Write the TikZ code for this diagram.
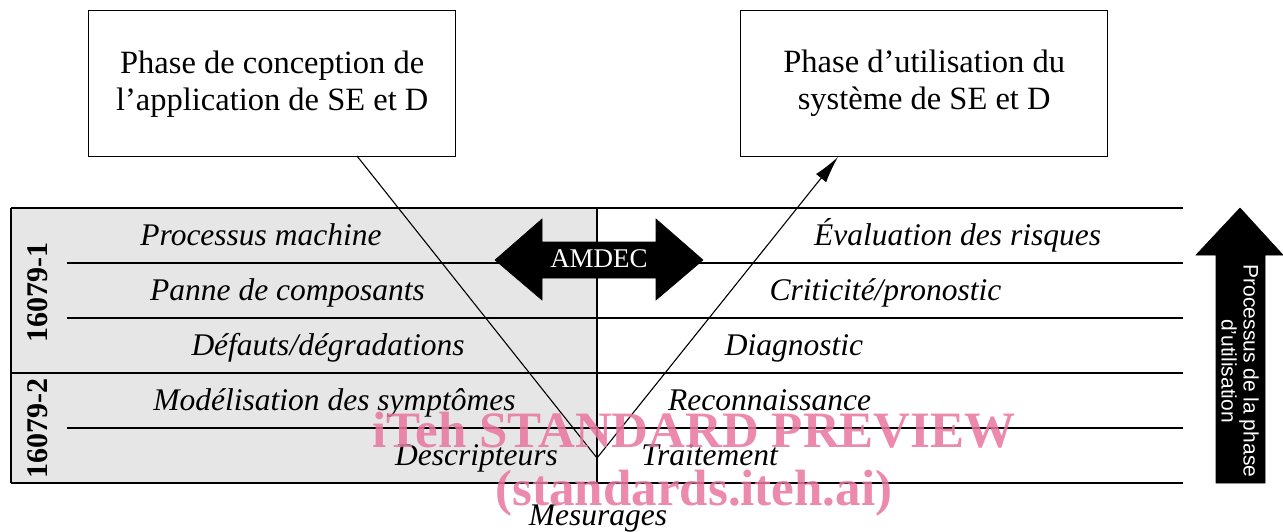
\documentclass[tikz,border=0pt]{standalone}
\usepackage{fontspec}
\setmainfont{Liberation Serif}
\newfontfamily\sansf{Liberation Sans}
\usetikzlibrary{calc,arrows.meta}
\definecolor{panelgray}{RGB}{230,230,230}
\definecolor{wmpink}{RGB}{232,118,158}
\begin{document}
\begin{tikzpicture}[x=1pt,y=-1pt,
  phasebox/.style={draw,line width=1.4pt,minimum width=367pt,minimum height=146pt,anchor=north west,inner sep=0pt,align=center,font=\fontsize{32.5}{37}\selectfont},
  tline/.style={line width=1.4pt},
  rowlabel/.style={anchor=base,inner sep=0pt,font=\fontsize{31.5}{34}\selectfont\itshape},
  stdlabel/.style={anchor=center,inner sep=0pt,rotate=90,font=\fontsize{30}{32}\selectfont\bfseries},
  vline/.style={line width=1.1pt},
  blackarrow/.style={fill=black,draw=black,line width=0.6pt},
  watermark/.style={anchor=base,inner sep=0pt,text=wmpink,opacity=0.85,font=\fontsize{51}{56}\selectfont\bfseries}
]
\useasboundingbox (0,0) rectangle (1283,531);
% gray panel
\fill[panelgray] (11,208) rectangle (597,483);
% boxes
\node[phasebox] (lbox) at (88,10) {Phase de conception de\\l’application de SE et D};
\node[phasebox] (rbox) at (740,10) {Phase d’utilisation du\\système de SE et D};
% table lines
\coordinate (tl) at (11,208);
\coordinate (tr) at (1183,208);
\coordinate (bl) at (11,483);
\coordinate (br) at (1183,483);
\draw[tline] (tl) -- (tr);
\draw[tline] (bl) -- (br);
\draw[tline] (tl) -- (bl);
\draw[tline] (597,208) -- (597,483);
\draw[tline] (67,263) -- (1183,263);
\draw[tline] (67,318) -- (1183,318);
\draw[tline] (11,373) -- (1183,373);
\draw[tline] (67,428) -- (1183,428);
% standard labels
\node[stdlabel] (s1) at (38,292) {16079-1};
\node[stdlabel] (s2) at (38,428) {16079-2};
% row labels left
\node[rowlabel] (r1) at (261,245) {Processus machine};
\node[rowlabel] (r2) at (287.5,300) {Panne de composants};
\node[rowlabel] (r3) at (328,355) {Défauts/dégradations};
\node[rowlabel] (r4) at (334.5,410) {Modélisation des symptômes};
\node[rowlabel] (r5) at (476.5,465) {Descripteurs};
\node[rowlabel] (m) at (598,525) {Mesurages};
% row labels right
\node[rowlabel] (q1) at (957.5,245) {Évaluation des risques};
\node[rowlabel] (q2) at (885.5,300) {Criticité/pronostic};
\node[rowlabel] (q3) at (794,355) {Diagnostic};
\node[rowlabel] (q4) at (769.5,410) {Reconnaissance};
\node[rowlabel] (q5) at (709.5,465) {Traitement};
% V connector
\coordinate (ls) at (357,156);
\coordinate (v) at (597,458);
\coordinate (re) at (838,157);
\draw[vline] (ls) -- (v);
\draw[vline,-{Latex[length=27pt,width=13pt]}] (v) -- (re);
% AMDEC double arrow
\draw[blackarrow] (495,260) -- (542,219) -- (542,242) -- (656,242) -- (656,219) -- (703,260)
  -- (656,300) -- (656,278) -- (542,278) -- (542,300) -- cycle;
\node[text=white,font=\fontsize{27}{30}\selectfont,inner sep=0pt] (amdec) at (599,259) {AMDEC};
% vertical process arrow
\draw[blackarrow] (1240,208) -- (1283,255) -- (1265,255) -- (1265,483) -- (1216,483) -- (1216,255) -- (1196,255) -- cycle;
\node[text=white,rotate=-90,align=center,inner sep=0pt,font=\sansf\fontsize{21}{22}\selectfont] (proc) at (1240,371) {Processus de la phase\\d’utilisation};
% watermark
\node[watermark] (w1) at (694,447) {iTeh STANDARD PREVIEW};
\node[watermark] (w2) at (694,505) {(standards.iteh.ai)};
\end{tikzpicture}
\end{document}
